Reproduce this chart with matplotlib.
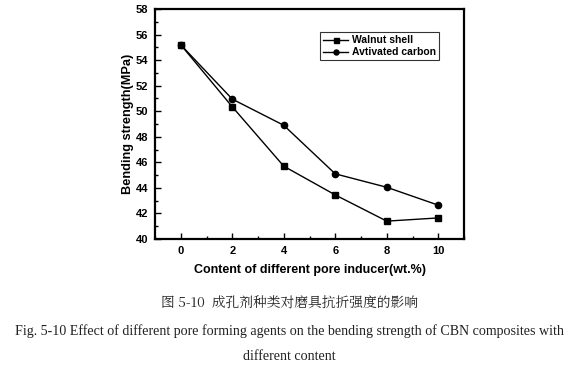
import matplotlib
matplotlib.use("Agg")
import matplotlib.pyplot as plt
from matplotlib.ticker import MultipleLocator

content = [0, 2, 4, 6, 8, 10]
walnut_shell = [55.2, 50.35, 45.7, 43.45, 41.4, 41.65]
activated_carbon = [55.2, 50.95, 48.9, 45.1, 44.05, 42.65]
labels = ["Walnut shell", "Avtivated carbon"]

plt.rcParams['font.family'] = ['Liberation Sans', 'DejaVu Sans']

fig = plt.figure(figsize=(5.79, 3.68), dpi=100)
ax = fig.add_axes([0.2677, 0.3505, 0.5337, 0.625])

ax.plot(content, walnut_shell, '-s', color='black', lw=1.0, ms=4.5, label=labels[0])
ax.plot(content, activated_carbon, '-o', color='black', lw=1.0, ms=4.5, label=labels[1])

ax.set_xlim(-1, 11)
ax.set_ylim(40, 58)
ax.xaxis.set_major_locator(MultipleLocator(2))
ax.xaxis.set_minor_locator(MultipleLocator(1))
ax.yaxis.set_major_locator(MultipleLocator(2))
ax.yaxis.set_minor_locator(MultipleLocator(1))
ax.tick_params(which='both', direction='in', width=1.0)
ax.tick_params(which='major', length=4, labelsize=8, pad=5)
ax.tick_params(which='minor', length=2)
for lab in ax.get_xticklabels() + ax.get_yticklabels():
    lab.set_fontweight('bold')
for s in ax.spines.values():
    s.set_linewidth(1.6)

ax.set_xlabel('Content of different pore inducer(wt.%)', fontsize=9, fontweight='bold', labelpad=6)
ax.set_ylabel('Bending strength(MPa)', fontsize=9.2, fontweight='bold', labelpad=1)

leg = ax.legend(loc='upper right', bbox_to_anchor=(0.935, 0.922), prop={'size': 7.5, 'weight': 'bold'},
                frameon=True, fancybox=False, edgecolor='black', handlelength=2.4,
                borderpad=0.3, labelspacing=0.2, handletextpad=0.3, markerscale=0.8)
leg.get_frame().set_linewidth(0.8)

fig.text(0.5, 1 - 303/368, '图 5-10  成孔剂种类对磨具抗折强度的影响', ha='center', va='center',
         fontsize=9.9, family=['Noto Serif CJK SC', 'Noto Sans CJK SC', 'DejaVu Sans'], color='#222222')
fig.text(0.5, 1 - 331/368, 'Fig. 5-10 Effect of different pore forming agents on the bending strength of CBN composites with',
         ha='center', va='center', fontsize=10.1, family=['Liberation Serif'], color='#222222')
fig.text(0.5, 1 - 356/368, 'different content', ha='center', va='center', fontsize=10.1,
         family=['Liberation Serif'], color='#222222')

fig.savefig('out.png', dpi=100)
